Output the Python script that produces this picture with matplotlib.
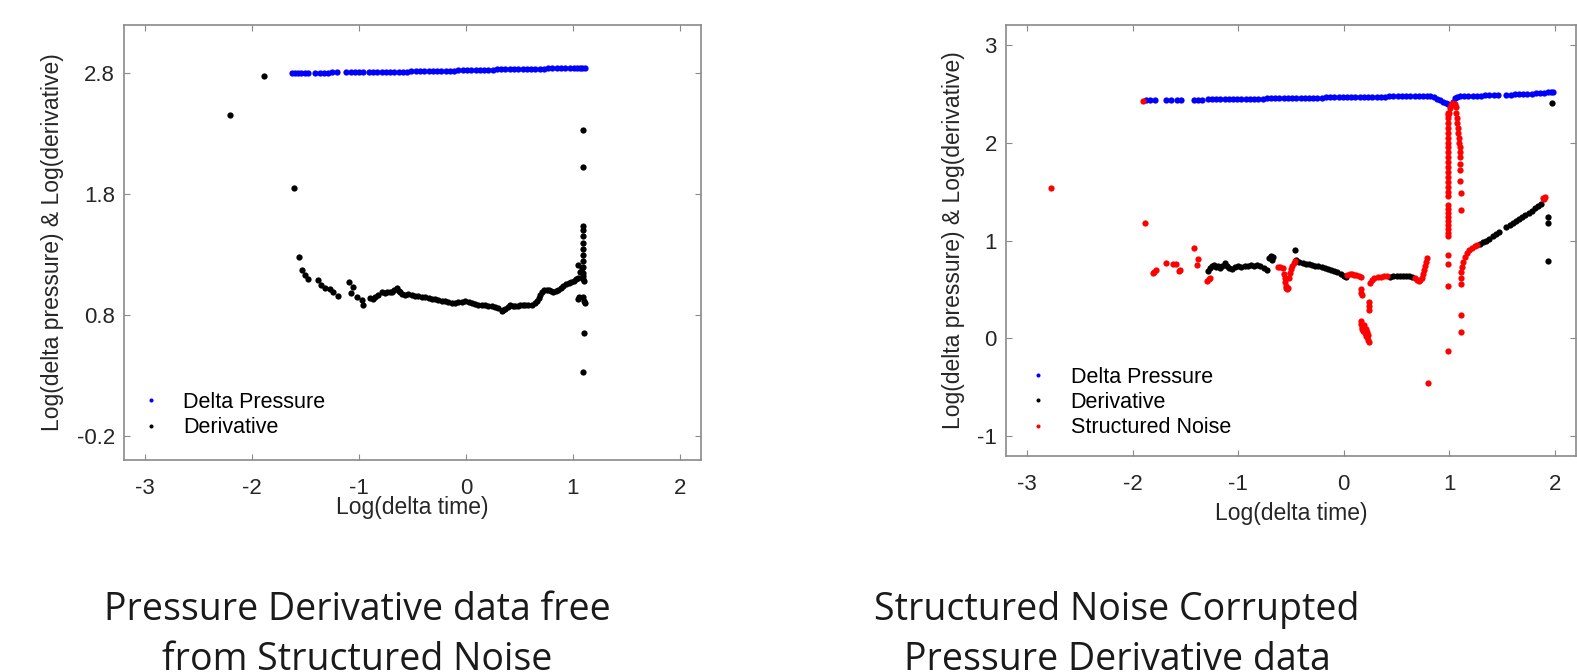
import matplotlib.pyplot as plt

plt.rcParams['font.family'] = ['Liberation Sans', 'DejaVu Sans']
plt.rcParams['axes.unicode_minus'] = False

# ---------------- left panel: noise free data ----------------
clean_dp_t = [-1.63, -1.60, -1.57, -1.54, -1.51, -1.48,
              -1.41, -1.37, -1.33, -1.29, -1.25, -1.21,
              -1.12, -1.08, -1.04, -1.00, -0.96,
              -0.91, -0.87, -0.83, -0.79, -0.75, -0.71, -0.67, -0.63, -0.59, -0.55,
              -0.51, -0.47, -0.43, -0.39, -0.35, -0.31, -0.27, -0.23, -0.19, -0.15,
              -0.11, -0.07, -0.03, 0.01, 0.05, 0.09, 0.13, 0.17, 0.21, 0.25,
              0.29, 0.33, 0.37, 0.41, 0.45, 0.49, 0.53, 0.57, 0.61, 0.65,
              0.69, 0.73, 0.77, 0.81, 0.85, 0.89, 0.93, 0.97, 1.01, 1.04, 1.07, 1.09, 1.11]
clean_dp = [2.803, 2.803, 2.804, 2.804, 2.804, 2.805,
            2.805, 2.806, 2.806, 2.806, 2.807, 2.807,
            2.808, 2.808, 2.809, 2.809, 2.810,
            2.810, 2.811, 2.811, 2.812, 2.812, 2.813, 2.813, 2.814, 2.815, 2.815,
            2.816, 2.817, 2.817, 2.818, 2.819, 2.819, 2.820, 2.821, 2.822, 2.822,
            2.823, 2.824, 2.825, 2.826, 2.826, 2.827, 2.828, 2.829, 2.830, 2.831,
            2.832, 2.832, 2.833, 2.834, 2.835, 2.836, 2.836, 2.837, 2.838, 2.839,
            2.839, 2.840, 2.841, 2.841, 2.842, 2.843, 2.843, 2.844, 2.844, 2.845, 2.845, 2.846, 2.846]

clean_der_t = [-2.21, -1.886, -1.605,
               -1.562, -1.531, -1.506, -1.481, -1.381, -1.356, -1.319, -1.272, -1.241, -1.200,
               -1.091, -1.075, -1.053, -1.022, -0.975, -0.960, -0.897, -0.870, -0.851, -0.819,
               -0.788, -0.760, -0.741, -0.715, -0.695, -0.670, -0.648, -0.630, -0.616, -0.595,
               -0.570, -0.545, -0.507, -0.480, -0.445, -0.415, -0.382, -0.350, -0.320, -0.290,
               -0.257, -0.225, -0.195, -0.165, -0.133, -0.100, -0.070, -0.040, -0.008, 0.025,
               0.055, 0.085, 0.117, 0.150, 0.179, 0.210, 0.242, 0.272, 0.304, 0.336,
               0.350, 0.367, 0.390, 0.414, 0.440, 0.460, 0.485, 0.507, 0.530, 0.554,
               0.585, 0.616, 0.645, 0.663, 0.680, 0.695, 0.715, 0.735, 0.755, 0.773,
               0.795, 0.819, 0.845, 0.866, 0.890, 0.913, 0.937, 0.960, 0.985, 1.007,
               1.030, 1.047, 1.045, 1.055, 1.050, 1.069, 1.085, 1.095, 1.100, 1.100,
               1.100, 1.100, 1.100, 1.100, 1.100, 1.100, 1.100, 1.100, 1.105, 1.100,
               1.105, 1.110, 1.105, 1.100, 1.100, 1.100]
clean_der = [2.457, 2.780, 1.854,
             1.276, 1.172, 1.131, 1.098, 1.090, 1.049, 1.027, 1.016, 0.994, 0.961,
             1.076, 0.980, 1.035, 0.953, 0.926, 0.885, 0.940, 0.930, 0.953, 0.967,
             0.989, 0.985, 0.994, 0.990, 0.994, 1.005, 1.022, 1.000, 0.994, 0.975,
             0.967, 0.970, 0.967, 0.960, 0.961, 0.950, 0.945, 0.938, 0.934, 0.930,
             0.926, 0.918, 0.912, 0.905, 0.898, 0.902, 0.907, 0.910, 0.912, 0.905,
             0.898, 0.890, 0.885, 0.882, 0.879, 0.875, 0.871, 0.865, 0.857, 0.836,
             0.845, 0.852, 0.870, 0.885, 0.875, 0.871, 0.878, 0.885, 0.882, 0.879,
             0.880, 0.885, 0.898, 0.912, 0.940, 0.967, 0.990, 1.008, 1.010, 1.008,
             0.995, 0.989, 1.000, 1.008, 1.025, 1.044, 1.055, 1.063, 1.072, 1.082,
             1.095, 1.104, 1.213, 0.953, 0.930, 1.158, 1.186, 1.100, 1.120, 1.150,
             1.200, 1.250, 1.300, 1.350, 1.400, 1.450, 1.500, 1.540, 1.080, 0.950,
             0.920, 0.900, 0.654, 0.331, 2.024, 2.330]

# ---------------- right panel: structured noise corrupted ----------------
noisy_dp_t = [-1.87, -1.84, -1.79, -1.68, -1.64, -1.58, -1.54, -1.42, -1.38, -1.34,
              -1.29, -1.25, -1.21, -1.17, -1.13, -1.09, -1.05,
              -1.01, -0.97, -0.93, -0.89, -0.85, -0.81, -0.77, -0.73, -0.69, -0.65,
              -0.61, -0.57, -0.53, -0.49, -0.45, -0.41, -0.37, -0.33, -0.29, -0.25,
              -0.21, -0.17, -0.13, -0.09, -0.05, -0.01, 0.03, 0.07, 0.11, 0.15,
              0.19, 0.23, 0.27, 0.31, 0.35, 0.39, 0.43, 0.47, 0.51, 0.55,
              0.59, 0.63, 0.67, 0.71, 0.75, 0.79, 0.82,
              0.85, 0.88, 0.91, 0.94, 0.97, 0.99, 1.01, 1.03, 1.05, 1.07,
              1.10, 1.14, 1.18, 1.22, 1.26, 1.30, 1.34, 1.38, 1.42, 1.46,
              1.54, 1.58, 1.62, 1.66, 1.70, 1.74, 1.78, 1.82, 1.86, 1.90, 1.93, 1.96, 1.98]
noisy_dp = [2.430, 2.430, 2.430, 2.430, 2.430, 2.430, 2.435, 2.435, 2.435, 2.435,
            2.440, 2.440, 2.440, 2.440, 2.440, 2.445, 2.445,
            2.445, 2.446, 2.447, 2.447, 2.448, 2.449, 2.449, 2.450, 2.451, 2.451,
            2.452, 2.453, 2.454, 2.454, 2.455, 2.456, 2.456, 2.457, 2.458, 2.459,
            2.459, 2.460, 2.461, 2.462, 2.462, 2.463, 2.464, 2.465, 2.465, 2.466,
            2.467, 2.467, 2.468, 2.469, 2.469, 2.470, 2.471, 2.471, 2.472, 2.473,
            2.473, 2.474, 2.474, 2.475, 2.475, 2.476, 2.474,
            2.460, 2.445, 2.430, 2.415, 2.400, 2.390, 2.385, 2.410, 2.450, 2.470,
            2.475, 2.476, 2.477, 2.478, 2.479, 2.480, 2.481, 2.482, 2.483, 2.484,
            2.488, 2.490, 2.492, 2.494, 2.496, 2.498, 2.500, 2.503, 2.506, 2.509, 2.512, 2.515, 2.517]

noisy_der_t = [-0.46,
               -1.29, -1.27, -1.25, -1.23, -1.21, -1.19, -1.17, -1.15, -1.13, -1.11,
               -1.09, -1.06, -1.03, -1.00, -0.97, -0.94, -0.91, -0.88, -0.85, -0.82,
               -0.79, -0.76, -0.73,
               -0.71, -0.69, -0.67, -0.68,
               -0.45, -0.42, -0.39, -0.36, -0.33, -0.30, -0.27, -0.24, -0.21, -0.18,
               -0.15, -0.12, -0.09, -0.06, -0.03, 0.00, 0.02,
               0.44, 0.47, 0.50, 0.53, 0.56, 0.59, 0.62, 0.65,
               1.29, 1.32, 1.35, 1.38, 1.41, 1.44, 1.47,
               1.54, 1.57, 1.60, 1.63, 1.66, 1.69, 1.72, 1.75, 1.78, 1.81, 1.84, 1.87,
               1.93, 1.93, 1.93, 1.97]
noisy_der = [0.90,
             0.69, 0.72, 0.74, 0.75, 0.73, 0.74, 0.72, 0.74, 0.77, 0.74,
             0.72, 0.71, 0.73, 0.74, 0.73, 0.74, 0.74, 0.75, 0.74, 0.75,
             0.74, 0.72, 0.70,
             0.82, 0.84, 0.83, 0.80,
             0.80, 0.78, 0.77, 0.76, 0.755, 0.75, 0.74, 0.735, 0.73, 0.72,
             0.71, 0.70, 0.69, 0.675, 0.66, 0.64, 0.625,
             0.63, 0.635, 0.64, 0.64, 0.64, 0.64, 0.635, 0.63,
             0.96, 0.98, 1.00, 1.02, 1.045, 1.065, 1.085,
             1.135, 1.155, 1.18, 1.20, 1.22, 1.24, 1.265, 1.285, 1.305, 1.33, 1.35, 1.37,
             1.245, 1.18, 0.795, 2.40]

noise_t = [-2.776, -1.90, -1.88, -1.81, -1.80, -1.78, -1.68, -1.62, -1.59, -1.56,
           -1.55, -1.42, -1.38, -1.39, -1.30, -1.28, -1.27,
           -0.62, -0.60, -0.58, -0.57, -0.56, -0.555, -0.55, -0.545, -0.54, -0.53,
           -0.52, -0.51, -0.50, -0.49, -0.475, -0.465,
           0.03, 0.06, 0.08, 0.10, 0.12, 0.14, 0.16,
           0.16, 0.165, 0.17, 0.235, 0.24, 0.24, 0.16, 0.165, 0.17, 0.175,
           0.18, 0.19, 0.20, 0.21, 0.21, 0.22, 0.22, 0.23, 0.23, 0.235,
           0.25, 0.27, 0.29, 0.32, 0.35, 0.38, 0.41,
           0.67, 0.69, 0.71, 0.72, 0.74, 0.75, 0.76, 0.77, 0.78, 0.79, 0.80,
           0.985, 0.985, 0.985, 0.985, 0.985, 0.985, 0.985, 0.985, 0.985, 0.985,
           0.985, 0.985, 0.985, 0.985, 0.985, 0.985, 0.985, 0.985, 0.985, 0.985,
           0.985, 0.985, 0.985, 0.985, 0.985, 0.985, 0.985, 0.985, 0.985, 0.985,
           0.985, 0.985,
           1.00, 1.01, 1.02, 1.035, 1.05, 1.06, 1.065, 1.07, 1.075, 1.08,
           1.085, 1.09, 1.095, 1.10, 1.10, 1.105, 1.105, 1.105, 1.105, 1.11, 1.11,
           1.11, 1.11, 1.11,
           1.11, 1.115, 1.12, 1.13, 1.145, 1.165, 1.19, 1.215, 1.24, 1.265,
           1.89, 1.91, 1.90]
noise = [1.54, 2.426, 1.176, 0.665, 0.68, 0.695, 0.774, 0.76, 0.765, 0.69,
         0.70, 0.925, 0.81, 0.75, 0.59, 0.61, 0.62,
         0.725, 0.73, 0.72, 0.66, 0.62, 0.58, 0.54, 0.51, 0.50, 0.52,
         0.62, 0.67, 0.71, 0.74, 0.77, 0.79,
         0.65, 0.66, 0.655, 0.65, 0.645, 0.64, 0.63,
         0.50, 0.46, 0.44, 0.37, 0.33, 0.29, 0.18, 0.15, 0.12, 0.10,
         0.08, 0.14, 0.06, 0.10, 0.03, 0.07, 0.01, 0.04, -0.02, -0.04,
         0.57, 0.60, 0.62, 0.625, 0.63, 0.635, 0.64,
         0.62, 0.60, 0.59, 0.595, 0.62, 0.66, 0.70, 0.74, 0.78, 0.82, -0.456,
         2.25, 2.20, 2.15, 2.10, 2.05, 2.00, 1.95, 1.90, 1.85, 1.80,
         1.75, 1.70, 1.65, 1.60, 1.55, 1.50, 1.45, 1.36, 1.32, 1.28,
         1.24, 1.20, 1.16, 1.12, 1.08, 1.05, 0.85, 0.76, 0.54, -0.13,
         2.30, 2.28,
         2.30, 2.35, 2.38, 2.40, 2.39, 2.36, 2.30, 2.25, 2.20, 2.15,
         2.10, 2.05, 2.00, 1.95, 1.90, 1.85, 1.78, 1.715, 1.61, 1.48, 1.31,
         0.556, 0.24, 0.07,
         0.62, 0.68, 0.73, 0.78, 0.83, 0.87, 0.90, 0.925, 0.94, 0.955,
         1.43, 1.44, 1.42]

grey = '#8a8a8a'
ms = 4.5


def style_axes(ax, ylim, yticks, xlabelpad):
    ax.set_xlim(-3.2, 2.2)
    ax.set_ylim(*ylim)
    ax.set_xticks([-3, -2, -1, 0, 1, 2])
    ax.set_yticks(yticks)
    ax.tick_params(direction='in', top=True, right=True, length=4, width=0.8,
                   color=grey, labelsize=16, labelcolor='#262626')
    ax.tick_params(axis='x', pad=13)
    ax.tick_params(axis='y', pad=6.5)
    for s in ax.spines.values():
        s.set_color(grey)
        s.set_linewidth(1.2)
    ax.set_xlabel('Log(delta time)', fontsize=16.5, color='#262626', labelpad=xlabelpad)
    ax.set_ylabel('Log(delta pressure) & Log(derivative)', fontsize=16.5,
                  color='#262626', labelpad=9)


fig = plt.figure(figsize=(15.77, 6.72), dpi=100)
ax1 = fig.add_axes([124 / 1577, 1 - 460 / 672, 577 / 1577, 435 / 672])
ax2 = fig.add_axes([1006 / 1577, 1 - 456 / 672, 570 / 1577, 431 / 672])

ax1.plot(clean_dp_t, clean_dp, 'o', color='#0000ff', ms=ms, mew=0, label='Delta Pressure')
ax1.plot(clean_der_t, clean_der, 'o', color='black', ms=ms, mew=0, label='Derivative')
style_axes(ax1, (-0.4, 3.2), [-0.2, 0.8, 1.8, 2.8], -2)

ax2.plot(noisy_dp_t, noisy_dp, 'o', color='#0000ff', ms=ms, mew=0, label='Delta Pressure')
ax2.plot(noisy_der_t, noisy_der, 'o', color='black', ms=ms, mew=0, label='Derivative')
ax2.plot(noise_t, noise, 'o', color='#ff0000', ms=ms, mew=0, label='Structured Noise')
style_axes(ax2, (-1.2, 3.2), [-1, 0, 1, 2, 3], 5)

leg_kw = dict(frameon=False, loc='lower left', handlelength=1.0, handletextpad=1.0,
              labelspacing=0.2, borderpad=0, borderaxespad=0, fontsize=15.5,
              markerscale=0.65)
ax1.legend(bbox_to_anchor=(0.028, 0.05), **leg_kw)
ax2.legend(bbox_to_anchor=(0.038, 0.041), **leg_kw)

cap_kw = dict(ha='center', va='center', fontsize=27, family='Open Sans',
              color='#1a1a1a', linespacing=1.4)
fig.text(357 / 1577, 1 - 635 / 672, 'Pressure Derivative data free\nfrom Structured Noise', **cap_kw)
fig.text(1117 / 1577, 1 - 635 / 672, 'Structured Noise Corrupted\nPressure Derivative data', **cap_kw)

fig.savefig('out.png', dpi=100)
